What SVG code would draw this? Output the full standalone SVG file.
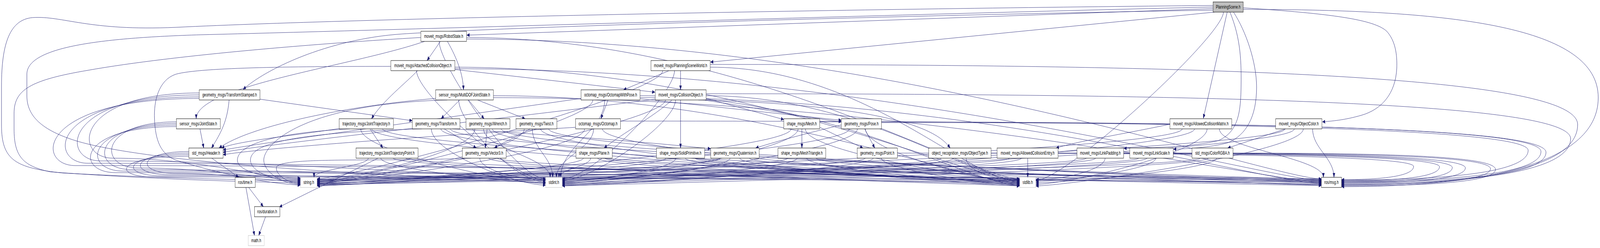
<svg xmlns="http://www.w3.org/2000/svg" width="6369" height="635" viewBox="0 0 6369 635" preserveAspectRatio="none">
<style>
:root{width:100vw;height:100vh}
.node rect{fill:#fff;stroke:#000;stroke-width:1}
.root rect{fill:#bfbfbf}
.ext rect{stroke:#bfbfbf}
.node text{font-family:"Liberation Sans",Arial,Helvetica,sans-serif;font-size:13px;text-anchor:middle;fill:#000}
#edges path{fill:none;stroke:#191970;stroke-width:1;marker-end:url(#arr)}
</style>
<defs>
<marker id="arr" markerWidth="12" markerHeight="10" refX="11" refY="4.5" orient="auto" markerUnits="userSpaceOnUse"><path d="M0,0 L11,4.5 L0,9 z" fill="#191970" stroke="#191970" stroke-width="0.5"/></marker>
</defs>
<rect x="0" y="0" width="6369" height="635" fill="#fff"/>
<g id="edges">
<path d="M4829,22 L1858,90"/>
<path d="M4835,31 L2828,159"/>
<path d="M4829,26 C3500,40 2000,70 1600,87 C1300,100 1050,180 968,229"/>
<path d="M4885,31 L4790,303"/>
<path d="M4896,31 C4940,100 4942,160 4940,230 C4938,300 4920,340 4850,360 C4750,376 4600,378 4474,380"/>
<path d="M4910,31 C4960,80 5002,160 5002,223 C5002,300 4960,345 4890,365 C4820,378 4720,381 4671,382"/>
<path d="M4949,20 C5300,35 5470,50 5520,80 C5555,105 5562,140 5560,175 C5555,240 5500,280 5420,295 C5350,308 5300,310 5264,312"/>
<path d="M1690,106 C1400,170 781,220 781,304"/>
<path d="M1781,106 C1820,150 1843,190 1845,230"/>
<path d="M1753,106 L1700,155"/>
<path d="M1811,178 L2607,236"/>
<path d="M1662,181 C1620,210 1520,260 1479,304"/>
<path d="M2709,181 L2709,230"/>
<path d="M2663,181 L2482,230"/>
<path d="M912,256 C905,310 880,340 842,379"/>
<path d="M1035,254 L1641,309"/>
<path d="M1830,256 L1756,304"/>
<path d="M1865,256 L1927,304"/>
<path d="M1901,256 L2090,304"/>
<path d="M1734,252 C1400,270 1000,320 872,379"/>
<path d="M796,330 L811,379"/>
<path d="M1360,328 C1200,345 950,360 882,379"/>
<path d="M2313,252 C1800,300 1100,360 888,384"/>
<path d="M2608,254 C2000,305 1100,365 888,390"/>
<path d="M2291,326 C1800,345 1100,375 888,396"/>
<path d="M2548,253 L3349,308"/>
<path d="M2420,256 C2410,275 2400,290 2392,304"/>
<path d="M2709,256 L2709,379"/>
<path d="M2811,252 L3120,306"/>
<path d="M2675,256 C2600,300 2480,340 2405,379"/>
<path d="M2800,256 C3000,275 3200,300 3349,312"/>
<path d="M2780,256 C3300,265 3700,300 3782,379"/>
<path d="M1473,330 L1524,379"/>
<path d="M1505,405 L1112,530"/>
<path d="M1768,330 L1896,379"/>
<path d="M1800,330 C2200,345 2600,365 2829,381"/>
<path d="M1939,330 L1932,379"/>
<path d="M2110,330 C2060,350 2000,365 1968,379"/>
<path d="M3192,330 L3192,379"/>
<path d="M3263,326 L3435,379"/>
<path d="M3442,330 L3482,379"/>
<path d="M3349,320 C3250,335 3100,360 3008,379"/>
<path d="M843,405 L950,454"/>
<path d="M4657,318 C4500,340 4300,360 4204,379"/>
<path d="M5117,330 L4887,379"/>
<path d="M979,480 L1013,603"/>
<path d="M990,480 L1048,529"/>
<path d="M1057,555 L1030,603"/>
<path d="M4829,14 C3500,22 1500,45 700,70 C350,80 250,40 130,45 C40,50 6,110 6,220 L6,320 C6,410 60,430 250,443 C600,455 1000,462 1196,462"/>
<path d="M1675,96 C1300,110 700,140 350,180 C120,205 56,230 56,290 L56,330 C56,400 90,425 200,440 C500,455 900,465 1196,468"/>
<path d="M1556,170 C1200,170 800,172 700,190 C630,205 612,260 615,304 C618,360 640,395 700,410 C850,440 1050,470 1196,474"/>
<path d="M2638,181 C2638,241 1382,458 1262,458"/>
<path d="M793,238 C290,238 290,405 450,405 C788,405 1046,456 1196,456"/>
<path d="M1780,256 C1200,266 1050,370 1050,410 C1050,440 1123,472 1196,472"/>
<path d="M2360,256 C2360,316 1382,466 1262,466"/>
<path d="M2649,256 C2649,316 1382,470 1262,470"/>
<path d="M702,312 C390,312 390,430 550,430 C848,430 1046,460 1196,460"/>
<path d="M1393,330 C1095,340 945,370 945,410 C945,440 1070,458 1196,458"/>
<path d="M1679,330 C1147,340 997,370 997,410 C997,440 1096,466 1196,466"/>
<path d="M1890,330 C1890,390 1382,460 1262,460"/>
<path d="M2087,330 C2087,390 1382,464 1262,464"/>
<path d="M2327,330 C2327,390 1382,468 1262,468"/>
<path d="M3149,330 C3149,390 1382,472 1262,472"/>
<path d="M3381,330 C3381,390 1382,476 1262,476"/>
<path d="M4706,330 C4706,390 1382,459 1262,459"/>
<path d="M5115,330 C5115,390 1382,463 1262,463"/>
<path d="M752,388 C540,388 540,444 700,444 C938,444 1046,464 1196,464"/>
<path d="M1466,405 C1466,425 1250,434 1250,454"/>
<path d="M1875,405 C1500,415 1100,400 1100,430 C1100,450 1150,470 1196,470"/>
<path d="M2322,405 C2322,433 1382,471 1262,471"/>
<path d="M2651,405 C2651,433 1382,475 1262,475"/>
<path d="M2868,405 C2868,433 1382,461 1262,461"/>
<path d="M3135,405 C3135,433 1382,465 1262,465"/>
<path d="M3444,405 C3444,433 1382,469 1262,469"/>
<path d="M3747,405 C3747,433 1382,473 1262,473"/>
<path d="M4018,405 C4018,433 1382,460 1262,460"/>
<path d="M4324,405 C4324,433 1382,464 1262,464"/>
<path d="M4532,405 C4532,433 1382,468 1262,468"/>
<path d="M4778,405 C4778,433 1382,472 1262,472"/>
<path d="M4829,18 C3500,38 1500,78 800,89 C400,97 107,120 107,190 L107,245 C107,290 150,330 300,360 C600,420 1600,455 2172,462"/>
<path d="M1748,106 C1748,166 2052,458 2172,458"/>
<path d="M1658,181 C1658,241 2052,462 2172,462"/>
<path d="M2685,181 C2685,241 2358,458 2238,458"/>
<path d="M793,243 C240,243 240,412 400,412 C1149,412 2022,458 2172,458"/>
<path d="M1826,256 C1826,316 2052,466 2172,466"/>
<path d="M2407,256 C2407,335 2232,375 2232,454"/>
<path d="M2689,256 C2689,316 2358,462 2238,462"/>
<path d="M702,316 C360,316 360,434 520,434 C1221,434 2022,462 2172,462"/>
<path d="M1436,330 C1436,390 2052,470 2172,470"/>
<path d="M1717,330 C1717,390 2052,474 2172,474"/>
<path d="M1925,330 C1925,380 2190,404 2190,454"/>
<path d="M2119,330 C2119,380 2200,404 2200,454"/>
<path d="M2363,330 C2363,380 2215,404 2215,454"/>
<path d="M3177,330 C3177,390 2358,466 2238,466"/>
<path d="M3413,330 C3413,390 2358,470 2238,470"/>
<path d="M4755,330 C4755,390 2358,474 2238,474"/>
<path d="M5152,330 C5152,390 2358,460 2238,460"/>
<path d="M752,392 C510,392 510,447 670,447 C1311,447 2022,466 2172,466"/>
<path d="M1516,405 C1516,433 2052,468 2172,468"/>
<path d="M1910,405 C1910,433 2052,460 2172,460"/>
<path d="M2351,405 C2351,425 2225,434 2225,454"/>
<path d="M2690,405 C2690,433 2358,464 2238,464"/>
<path d="M2906,405 C2906,433 2358,468 2238,468"/>
<path d="M3173,405 C3173,433 2358,472 2238,472"/>
<path d="M3476,405 C3476,433 2358,476 2238,476"/>
<path d="M3796,405 C3796,433 2358,459 2238,459"/>
<path d="M4066,405 C4066,433 2358,463 2238,463"/>
<path d="M4361,405 C4361,433 2358,467 2238,467"/>
<path d="M4566,405 C4566,433 2358,471 2238,471"/>
<path d="M4810,405 C4810,433 2358,475 2238,475"/>
<path d="M4870,31 C4870,91 4243,462 4123,462"/>
<path d="M1857,96 C2958,96 3859,458 4059,458"/>
<path d="M1811,172 C2935,172 3859,462 4059,462"/>
<path d="M2827,172 C3443,172 3859,466 4059,466"/>
<path d="M793,248 C190,248 190,418 350,418 C1874,418 3909,458 4059,458"/>
<path d="M1964,245 C3011,245 3859,470 4059,470"/>
<path d="M2548,245 C3303,245 3859,474 4059,474"/>
<path d="M2811,245 C3435,245 3859,460 4059,460"/>
<path d="M702,320 C330,320 330,438 490,438 C1958,438 3909,462 4059,462"/>
<path d="M1480,330 C1480,390 3939,464 4059,464"/>
<path d="M1755,330 C1755,390 3939,468 4059,468"/>
<path d="M1960,330 C1960,390 3939,472 4059,472"/>
<path d="M2152,330 C2152,390 3939,476 4059,476"/>
<path d="M2398,330 C2398,390 3939,459 4059,459"/>
<path d="M3206,330 C3206,390 3939,463 4059,463"/>
<path d="M3445,330 C3445,390 3939,467 4059,467"/>
<path d="M4805,330 C4805,390 4243,472 4123,472"/>
<path d="M5188,330 C5188,390 4243,476 4123,476"/>
<path d="M752,396 C480,396 480,450 640,450 C2048,450 3909,466 4059,466"/>
<path d="M1565,405 C1565,433 3939,471 4059,471"/>
<path d="M1945,405 C1945,433 3939,475 4059,475"/>
<path d="M2379,405 C2379,433 3939,458 4059,458"/>
<path d="M2728,405 C2728,433 3939,462 4059,462"/>
<path d="M2945,405 C2945,433 3939,466 4059,466"/>
<path d="M3211,405 C3211,433 3939,470 4059,470"/>
<path d="M3508,405 C3508,433 3939,474 4059,474"/>
<path d="M3846,405 C3846,433 3939,461 4059,461"/>
<path d="M4091,405 L4091,454"/>
<path d="M4399,405 C4399,433 4243,460 4123,460"/>
<path d="M4601,405 C4601,433 4243,464 4123,464"/>
<path d="M4843,405 C4843,433 4243,468 4123,468"/>
<path d="M4949,24 C5797,24 6362,69 6362,250 C6362,431 5851,478 5340,478"/>
<path d="M1857,100 C3500,100 5060,458 5260,458"/>
<path d="M1811,176 C3500,176 5060,462 5260,462"/>
<path d="M2827,165 C4899,165 6280,196 6280,319 C6280,442 5810,474 5340,474"/>
<path d="M793,252 C140,252 140,424 300,424 C2324,424 5110,458 5260,458"/>
<path d="M1964,250 C3600,250 5060,466 5260,466"/>
<path d="M2548,250 C3900,250 5060,470 5260,470"/>
<path d="M2811,240 C4876,240 6252,263 6252,355 C6252,447 5796,471 5340,471"/>
<path d="M702,324 C300,324 300,442 460,442 C2420,442 5110,462 5260,462"/>
<path d="M1523,330 C1523,390 5140,474 5260,474"/>
<path d="M1793,330 C1793,390 5140,459 5260,459"/>
<path d="M1995,330 C1995,390 5140,463 5260,463"/>
<path d="M2184,330 C2184,390 5140,467 5260,467"/>
<path d="M2470,310 C4638,310 6083,325 6083,385 C6083,446 5711,461 5340,461"/>
<path d="M3263,312 C4986,312 6134,327 6134,388 C6134,449 5737,464 5340,464"/>
<path d="M3509,314 C5096,314 6154,329 6154,390 C6154,452 5747,467 5340,467"/>
<path d="M4854,330 C4854,380 5268,404 5268,454"/>
<path d="M5225,330 C5225,380 5310,404 5310,454"/>
<path d="M752,400 C450,400 450,453 610,453 C2510,453 5110,466 5260,466"/>
<path d="M1615,405 C1615,433 5140,471 5260,471"/>
<path d="M1980,405 C1980,433 5140,475 5260,475"/>
<path d="M2408,405 C2408,433 5140,460 5260,460"/>
<path d="M2767,405 C2767,433 5140,472 5260,472"/>
<path d="M2983,405 C2983,433 5140,464 5260,464"/>
<path d="M3249,405 C3249,433 5140,468 5260,468"/>
<path d="M3572,392 C4805,392 5627,399 5627,426 C5627,453 5483,460 5340,460"/>
<path d="M3945,392 C5016,392 5730,399 5730,427 C5730,456 5535,463 5340,463"/>
<path d="M4212,392 C5153,392 5781,399 5781,429 C5781,459 5560,466 5340,466"/>
<path d="M4473,392 C5289,392 5833,400 5833,430 C5833,461 5586,469 5340,469"/>
<path d="M4670,392 C5428,392 5933,400 5933,432 C5933,465 5636,473 5340,473"/>
<path d="M4908,392 C5535,392 5953,400 5953,434 C5953,468 5646,476 5340,476"/>
</g>
<g id="node-PS" class="node root"><rect x="4829" y="5" width="120" height="26"/><text x="4889" y="22.5">PlanningScene.h</text></g>
<g id="node-RS" class="node"><rect x="1675" y="80" width="182" height="26"/><text x="1766" y="97.5">moveit_msgs/RobotState.h</text></g>
<g id="node-ACO" class="node"><rect x="1556" y="155" width="255" height="26"/><text x="1683.5" y="172.5">moveit_msgs/AttachedCollisionObject.h</text></g>
<g id="node-PSW" class="node"><rect x="2591" y="155" width="236" height="26"/><text x="2709" y="172.5">moveit_msgs/PlanningSceneWorld.h</text></g>
<g id="node-TS" class="node"><rect x="793" y="230" width="242" height="26"/><text x="914" y="247.5">geometry_msgs/TransformStamped.h</text></g>
<g id="node-MDOF" class="node"><rect x="1734" y="230" width="230" height="26"/><text x="1849" y="247.5">sensor_msgs/MultiDOFJointState.h</text></g>
<g id="node-OWP" class="node"><rect x="2313" y="230" width="235" height="26"/><text x="2430.5" y="247.5">octomap_msgs/OctomapWithPose.h</text></g>
<g id="node-CO" class="node"><rect x="2608" y="230" width="203" height="26"/><text x="2709.5" y="247.5">moveit_msgs/CollisionObject.h</text></g>
<g id="node-JS" class="node"><rect x="702" y="304" width="175" height="26"/><text x="789.5" y="321.5">sensor_msgs/JointState.h</text></g>
<g id="node-JT" class="node"><rect x="1350" y="304" width="216" height="26"/><text x="1458" y="321.5">trajectory_msgs/JointTrajectory.h</text></g>
<g id="node-TF" class="node"><rect x="1641" y="304" width="190" height="26"/><text x="1736" y="321.5">geometry_msgs/Transform.h</text></g>
<g id="node-WR" class="node"><rect x="1855" y="304" width="175" height="26"/><text x="1942.5" y="321.5">geometry_msgs/Wrench.h</text></g>
<g id="node-TW" class="node"><rect x="2054" y="304" width="163" height="26"/><text x="2135.5" y="321.5">geometry_msgs/Twist.h</text></g>
<g id="node-OM" class="node"><rect x="2291" y="304" width="179" height="26"/><text x="2380.5" y="321.5">octomap_msgs/Octomap.h</text></g>
<g id="node-MESH" class="node"><rect x="3120" y="304" width="143" height="26"/><text x="3191.5" y="321.5">shape_msgs/Mesh.h</text></g>
<g id="node-POSE" class="node"><rect x="3349" y="304" width="160" height="26"/><text x="3429" y="321.5">geometry_msgs/Pose.h</text></g>
<g id="node-ACM" class="node"><rect x="4657" y="304" width="246" height="26"/><text x="4780" y="321.5">moveit_msgs/AllowedCollisionMatrix.h</text></g>
<g id="node-OC" class="node"><rect x="5078" y="304" width="184" height="26"/><text x="5170" y="321.5">moveit_msgs/ObjectColor.h</text></g>
<g id="node-HDR" class="node"><rect x="752" y="379" width="136" height="26"/><text x="820" y="396.5">std_msgs/Header.h</text></g>
<g id="node-JTP" class="node"><rect x="1417" y="379" width="247" height="26"/><text x="1540.5" y="396.5">trajectory_msgs/JointTrajectoryPoint.h</text></g>
<g id="node-V3" class="node"><rect x="1840" y="379" width="175" height="26"/><text x="1927.5" y="396.5">geometry_msgs/Vector3.h</text></g>
<g id="node-PLANE" class="node"><rect x="2293" y="379" width="144" height="26"/><text x="2365" y="396.5">shape_msgs/Plane.h</text></g>
<g id="node-SP" class="node"><rect x="2613" y="379" width="192" height="26"/><text x="2709" y="396.5">shape_msgs/SolidPrimitive.h</text></g>
<g id="node-Q" class="node"><rect x="2829" y="379" width="193" height="26"/><text x="2925.5" y="396.5">geometry_msgs/Quaternion.h</text></g>
<g id="node-MT" class="node"><rect x="3097" y="379" width="190" height="26"/><text x="3192" y="396.5">shape_msgs/MeshTriangle.h</text></g>
<g id="node-PT" class="node"><rect x="3412" y="379" width="160" height="26"/><text x="3492" y="396.5">geometry_msgs/Point.h</text></g>
<g id="node-OT" class="node"><rect x="3697" y="379" width="248" height="26"/><text x="3821" y="396.5">object_recognition_msgs/ObjectType.h</text></g>
<g id="node-ACE" class="node"><rect x="3969" y="379" width="243" height="26"/><text x="4090.5" y="396.5">moveit_msgs/AllowedCollisionEntry.h</text></g>
<g id="node-LP" class="node"><rect x="4287" y="379" width="186" height="26"/><text x="4380" y="396.5">moveit_msgs/LinkPadding.h</text></g>
<g id="node-LS" class="node"><rect x="4497" y="379" width="173" height="26"/><text x="4583.5" y="396.5">moveit_msgs/LinkScale.h</text></g>
<g id="node-CRGBA" class="node"><rect x="4745" y="379" width="163" height="26"/><text x="4826.5" y="396.5">std_msgs/ColorRGBA.h</text></g>
<g id="node-TIME" class="node"><rect x="936" y="454" width="80" height="26"/><text x="976" y="471.5">ros/time.h</text></g>
<g id="node-STR" class="node ext"><rect x="1196" y="454" width="66" height="26"/><text x="1229" y="471.5">string.h</text></g>
<g id="node-SINT" class="node ext"><rect x="2172" y="454" width="66" height="26"/><text x="2205" y="471.5">stdint.h</text></g>
<g id="node-SLIB" class="node ext"><rect x="4059" y="454" width="64" height="26"/><text x="4091" y="471.5">stdlib.h</text></g>
<g id="node-MSG" class="node"><rect x="5260" y="454" width="80" height="26"/><text x="5300" y="471.5">ros/msg.h</text></g>
<g id="node-DUR" class="node"><rect x="1013" y="529" width="101" height="26"/><text x="1063.5" y="546.5">ros/duration.h</text></g>
<g id="node-MATH" class="node ext"><rect x="988" y="603" width="64" height="26"/><text x="1020" y="620.5">math.h</text></g>
</svg>
